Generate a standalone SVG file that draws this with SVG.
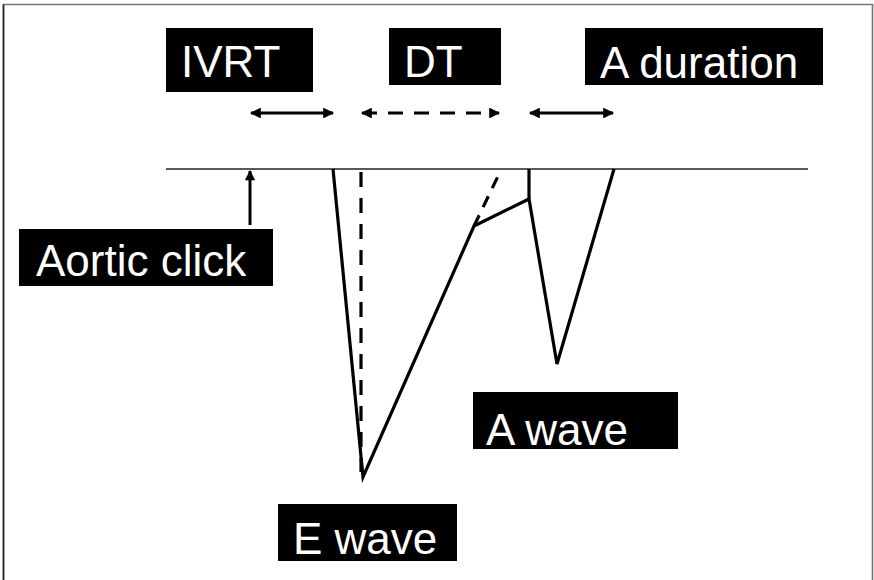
<svg xmlns="http://www.w3.org/2000/svg" width="874" height="580" viewBox="0 0 874 580">
  <defs>
    <marker id="head" viewBox="0 0 10 10" refX="9" refY="5" markerWidth="3.8" markerHeight="3.4" orient="auto-start-reverse" markerUnits="strokeWidth">
      <path d="M0,0 L10,5 L0,10 Z" fill="#000"/>
    </marker>
    <style>
      .box { fill: #000; }
      .lbl { fill: #fff; font-family: "Liberation Sans", Arial, sans-serif; font-size: 44px; }
      .wave { fill: none; stroke: #000; stroke-width: 3.2; stroke-linejoin: miter; }
      .dash { stroke-dasharray: 15 11; }
      .span { stroke: #000; stroke-width: 3.2; fill: none; marker-start: url(#head); marker-end: url(#head); }
    </style>
  </defs>

  <!-- frame -->
  <rect width="874" height="580" fill="#fff"/>
  <path d="M3.5,585 V4.5 H872.5 V585" fill="none" stroke="#777" stroke-width="1.6"/>
  <line x1="3.5" y1="4.5" x2="3.5" y2="580" stroke="#222" stroke-width="1.6"/>

  <!-- labels -->
  <g id="ivrt">
    <rect class="box" x="166" y="28" width="147" height="64"/>
    <text class="lbl" x="181" y="77">IVRT</text>
  </g>
  <g id="dt">
    <rect class="box" x="389" y="28" width="112" height="57"/>
    <text class="lbl" x="404" y="77">DT</text>
  </g>
  <g id="a-duration">
    <rect class="box" x="585" y="28" width="238" height="57"/>
    <text class="lbl" x="600" y="78">A duration</text>
  </g>
  <g id="aortic-click">
    <rect class="box" x="19" y="229" width="254" height="57"/>
    <text class="lbl" x="36" y="276">Aortic click</text>
  </g>
  <g id="a-wave">
    <rect class="box" x="473" y="392" width="205" height="57"/>
    <text class="lbl" x="486" y="445">A wave</text>
  </g>
  <g id="e-wave">
    <rect class="box" x="278" y="504" width="179" height="57"/>
    <text class="lbl" x="293" y="554">E wave</text>
  </g>

  <!-- connectors: interval spans, baseline, click marker and Doppler trace -->
  <g id="connectors">
    <line class="span" x1="251" y1="113" x2="333" y2="113"/>
    <line class="span dash" x1="362" y1="113" x2="499" y2="113"/>
    <line class="span" x1="530" y1="113" x2="613" y2="113"/>

    <line x1="166" y1="169" x2="808" y2="169" stroke="#222" stroke-width="1.6"/>
    <line x1="250" y1="225" x2="250" y2="171" stroke="#000" stroke-width="3" marker-end="url(#head)"/>

    <polyline class="wave" points="333,169 363,477 474,226 529,199 557,364 614,169"/>
    <line class="wave" x1="529" y1="169" x2="529" y2="199"/>
    <line class="wave dash" x1="361" y1="172" x2="361" y2="472"/>
    <line class="wave" x1="474" y1="226" x2="501" y2="170" stroke-dasharray="12 9"/>
  </g>
</svg>
